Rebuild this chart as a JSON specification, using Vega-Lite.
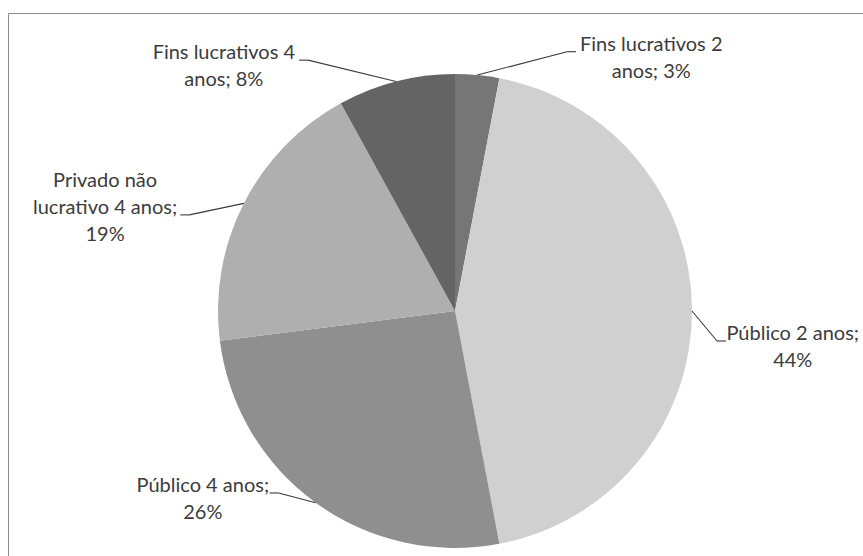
{
  "$schema": "https://vega.github.io/schema/vega-lite/v6.json",
  "width": 855,
  "height": 543,
  "autosize": {"type": "none"},
  "padding": {"left": 8, "top": 13, "right": 0, "bottom": 0},
  "background": "white",
  "config": {
    "view": {"stroke": "#8c8c8c", "strokeWidth": 1},
    "font": "Lato"
  },
  "data": {
    "values": [
      {"categoria": "Fins lucrativos 2 anos", "texto": "Fins lucrativos 2\nanos; ", "pct": 3, "ordem": 1},
      {"categoria": "Público 2 anos", "texto": "Público 2 anos;\n", "pct": 44, "ordem": 2},
      {"categoria": "Público 4 anos", "texto": "Público 4 anos;\n", "pct": 26, "ordem": 3},
      {"categoria": "Privado não lucrativo 4 anos", "texto": "Privado não\nlucrativo 4 anos;\n", "pct": 19, "ordem": 4},
      {"categoria": "Fins lucrativos 4 anos", "texto": "Fins lucrativos 4\nanos; ", "pct": 8, "ordem": 5}
    ]
  },
  "transform": [
    {"joinaggregate": [{"op": "sum", "field": "pct", "as": "total"}]},
    {"window": [{"op": "sum", "field": "pct", "as": "acum"}], "sort": [{"field": "ordem"}], "frame": [null, 0]},
    {"calculate": "datum.acum - datum.pct", "as": "inicio"},
    {"calculate": "2*PI*(datum.acum - datum.pct/2)/datum.total", "as": "meio"},
    {"calculate": "sin(datum.meio)", "as": "s"},
    {"calculate": "cos(datum.meio)", "as": "c"},
    {"calculate": "datum.s >= 0 ? 1 : -1", "as": "lado"},
    {"calculate": "237*datum.s", "as": "bordaX"},
    {"calculate": "237*datum.c", "as": "bordaY"},
    {"calculate": "25 + 65*max(datum.c, 0) + 15*max(-datum.c, 0)", "as": "guia"},
    {"calculate": "datum.lado*(abs(datum.bordaX) + datum.guia)", "as": "cotoX"},
    {"calculate": "datum.bordaY*(1 + 0.1*datum.c) - 30*(1 - abs(datum.c))", "as": "cotoY"},
    {"calculate": "datum.cotoX + 9*datum.lado", "as": "pontaX"},
    {"calculate": "datum.texto + datum.pct + '%'", "as": "rotulo"},
    {"calculate": "split(datum.rotulo, '\\n')", "as": "linhas"},
    {"calculate": "max(length(datum.linhas[0]), length(datum.linhas[1] || ''), length(datum.linhas[2] || ''))", "as": "maxChars"},
    {"calculate": "datum.pontaX + datum.lado*(3 + 4.25*datum.maxChars)", "as": "rotuloX"},
    {"calculate": "datum.cotoY + 7 + 27*(length(datum.linhas) - 2)", "as": "rotuloY"}
  ],
  "layer": [
    {
      "mark": {"type": "arc", "outerRadius": 237},
      "encoding": {
        "theta": {"field": "inicio", "type": "quantitative", "stack": false, "scale": {"domain": [0, 100]}},
        "theta2": {"field": "acum"},
        "x": {"datum": 0, "type": "quantitative", "scale": {"domain": [-447, 408], "nice": false, "zero": false}, "axis": null},
        "y": {"datum": 0, "type": "quantitative", "scale": {"domain": [-245, 298], "nice": false, "zero": false}, "axis": null},
        "color": {
          "field": "categoria",
          "type": "nominal",
          "scale": {
            "domain": ["Fins lucrativos 2 anos", "Público 2 anos", "Público 4 anos", "Privado não lucrativo 4 anos", "Fins lucrativos 4 anos"],
            "range": ["#767676", "#d0d0d0", "#8f8f8f", "#afafaf", "#646464"]
          },
          "legend": null
        }
      }
    },
    {
      "mark": {"type": "rule", "color": "#3a3a3a", "strokeWidth": 1.1},
      "encoding": {
        "x": {"field": "bordaX", "type": "quantitative", "scale": {"domain": [-447, 408], "nice": false, "zero": false}, "axis": null},
        "y": {"field": "bordaY", "type": "quantitative", "scale": {"domain": [-245, 298], "nice": false, "zero": false}, "axis": null},
        "x2": {"field": "cotoX"},
        "y2": {"field": "cotoY"}
      }
    },
    {
      "mark": {"type": "rule", "color": "#3a3a3a", "strokeWidth": 1.1},
      "encoding": {
        "x": {"field": "cotoX", "type": "quantitative", "scale": {"domain": [-447, 408], "nice": false, "zero": false}, "axis": null},
        "y": {"field": "cotoY", "type": "quantitative", "scale": {"domain": [-245, 298], "nice": false, "zero": false}, "axis": null},
        "x2": {"field": "pontaX"}
      }
    },
    {
      "mark": {
        "type": "text",
        "align": "center",
        "baseline": "middle",
        "lineBreak": "\n",
        "lineHeight": 27,
        "fontSize": 20,
        "font": "Lato",
        "color": "#3c3c3c"
      },
      "encoding": {
        "x": {"field": "rotuloX", "type": "quantitative", "scale": {"domain": [-447, 408], "nice": false, "zero": false}, "axis": null},
        "y": {"field": "rotuloY", "type": "quantitative", "scale": {"domain": [-245, 298], "nice": false, "zero": false}, "axis": null},
        "text": {"field": "rotulo"}
      }
    }
  ]
}
